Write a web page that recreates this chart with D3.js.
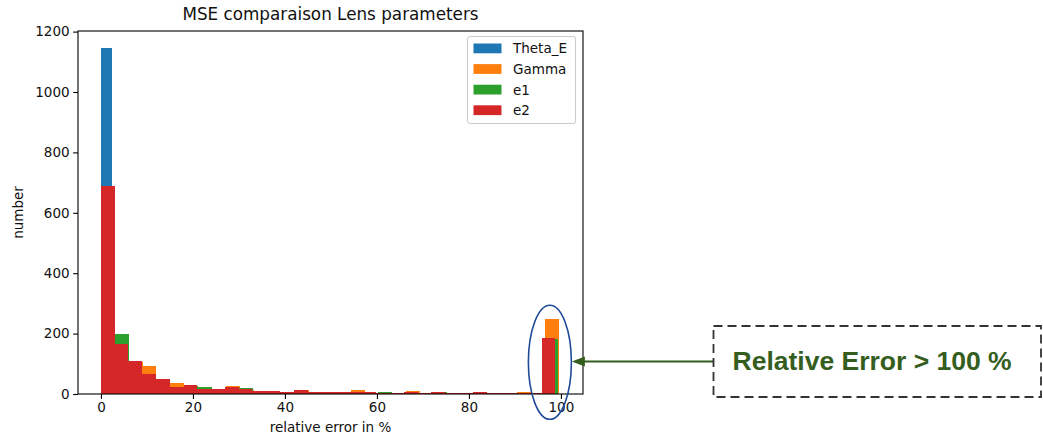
<!DOCTYPE html>
<html>
<head>
<meta charset="utf-8">
<script src="https://cdn.jsdelivr.net/npm/d3@7"></script>
<style>
  html, body { margin: 0; padding: 0; background: #ffffff; }
  svg { display: block; }
</style>
</head>
<body>
<svg id="chart" width="1043" height="436"></svg>
<script>
// Histogram counts per parameter (33 bins each, over each series' own range)
const seriesNames = ["Theta_E", "Gamma", "e1", "e2"];
const seriesColors = ["#1f77b4", "#ff7f0e", "#2ca02c", "#d62728"];

const thetaERange = [0, 77];
const thetaECounts = [1145, 150, 60, 35, 20, 12, 8, 5, 3, 3, 2, 2, 1, 1, 1, 1, 0, 1, 0, 0, 1, 0, 0, 0, 0, 1, 0, 0, 0, 0, 0, 0, 1];

const gammaRange = [0, 99.6];
const gammaCounts = [560, 180, 105, 92, 45, 35, 25, 20, 14, 27, 14, 9, 8, 7, 14, 8, 6, 5, 12, 4, 3, 3, 10, 3, 3, 4, 2, 2, 2, 3, 7, 3, 248];

const e1Range = [0, 99.3];
const e1Counts = [600, 200, 100, 60, 45, 22, 28, 24, 12, 18, 21, 9, 8, 7, 8, 6, 5, 8, 4, 4, 6, 3, 2, 3, 7, 2, 2, 2, 3, 2, 1, 2, 182];

const e2Range = [0, 98.8];
const e2Counts = [690, 165, 108, 66, 50, 24, 30, 16, 15, 22, 15, 10, 9, 8, 12, 8, 7, 6, 5, 8, 4, 3, 5, 3, 5, 4, 2, 8, 2, 2, 3, 2, 187];

const xTicks = [0, 20, 40, 60, 80, 100];
const yTicks = [0, 200, 400, 600, 800, 1000, 1200];

const titleText = "MSE comparaison Lens parameters";
const xLabelText = "relative error in %";
const yLabelText = "number";
const calloutText = "Relative Error > 100 %";

const series = [
  { name: seriesNames[0], color: seriesColors[0], range: thetaERange, counts: thetaECounts },
  { name: seriesNames[1], color: seriesColors[1], range: gammaRange, counts: gammaCounts },
  { name: seriesNames[2], color: seriesColors[2], range: e1Range, counts: e1Counts },
  { name: seriesNames[3], color: seriesColors[3], range: e2Range, counts: e2Counts }
];

const font = "'DejaVu Sans', sans-serif";
const svg = d3.select("#chart");

const plot = { left: 78, right: 583, top: 31, bottom: 394 };

const x = d3.scaleLinear().domain([-4.99, 104.8]).range([plot.left, plot.right]);
const y = d3.scaleLinear().domain([0, 1202]).range([plot.bottom, plot.top]);

// Bars: each series uses equal-width bins over its own range, later series on top
series.forEach(s => {
  const n = s.counts.length;
  const w = (s.range[1] - s.range[0]) / n;
  const bins = s.counts.map((c, i) => ({ x0: s.range[0] + i * w, x1: s.range[0] + (i + 1) * w, c }));
  svg.append("g")
    .selectAll("rect")
    .data(bins)
    .join("rect")
    .attr("x", d => x(d.x0))
    .attr("width", d => x(d.x1) - x(d.x0))
    .attr("y", d => y(d.c))
    .attr("height", d => y(0) - y(d.c))
    .attr("fill", s.color)
    .attr("shape-rendering", "crispEdges");
});

// Axes
const xAxis = d3.axisBottom(x).tickValues(xTicks).tickFormat(d3.format("d"))
  .tickSizeOuter(0).tickSize(4.9).tickPadding(3.5);
const yAxis = d3.axisLeft(y).tickValues(yTicks).tickFormat(d3.format("d"))
  .tickSizeOuter(0).tickSize(4.9).tickPadding(3.5);

const gx = svg.append("g").attr("transform", `translate(0,${plot.bottom})`).call(xAxis);
const gy = svg.append("g").attr("transform", `translate(${plot.left},0)`).call(yAxis);
[gx, gy].forEach(g => {
  g.select(".domain").remove();
  g.selectAll("text").attr("font-family", font).attr("font-size", "13.5px").attr("fill", "#111");
  g.selectAll("line").attr("stroke", "#000").attr("stroke-width", 1.1);
});

// Frame
svg.append("rect")
  .attr("x", plot.left).attr("y", plot.top)
  .attr("width", plot.right - plot.left).attr("height", plot.bottom - plot.top)
  .attr("fill", "none").attr("stroke", "#000").attr("stroke-width", 1.1);

// Title and axis labels
svg.append("text")
  .attr("x", (plot.left + plot.right) / 2).attr("y", 20)
  .attr("text-anchor", "middle").attr("font-family", font).attr("font-size", "16.8px")
  .attr("fill", "#111").text(titleText);

svg.append("text")
  .attr("x", (plot.left + plot.right) / 2).attr("y", 432)
  .attr("text-anchor", "middle").attr("font-family", font).attr("font-size", "13.5px")
  .attr("fill", "#111").text(xLabelText);

svg.append("text")
  .attr("transform", `translate(23,${(plot.top + plot.bottom) / 2}) rotate(-90)`)
  .attr("text-anchor", "middle").attr("font-family", font).attr("font-size", "13.5px")
  .attr("fill", "#111").text(yLabelText);

// Legend
const legend = svg.append("g").attr("transform", "translate(467.5,36.5)");
legend.append("rect")
  .attr("width", 108).attr("height", 87).attr("rx", 2.5)
  .attr("fill", "#fff").attr("fill-opacity", 0.8)
  .attr("stroke", "#cccccc").attr("stroke-width", 1);
series.forEach((s, i) => {
  const row = legend.append("g").attr("transform", `translate(6,${7 + i * 20.6})`);
  row.append("rect").attr("width", 28).attr("height", 9.8).attr("fill", s.color);
  row.append("text")
    .attr("x", 39.5).attr("y", 9.8)
    .attr("font-family", font).attr("font-size", "13.5px").attr("fill", "#111")
    .text(s.name);
});

// Callout on the clipped >100 % bin
const ex = x(97.6), ey = y(105);
svg.append("ellipse")
  .attr("cx", ex).attr("cy", ey).attr("rx", 21.5).attr("ry", 57)
  .attr("fill", "none").attr("stroke", "#1f4a9a").attr("stroke-width", 1.6);

const green = "#355e1e";
const boxLeft = 713.5, boxTop = 326, boxRight = 1041, boxBottom = 397;
const arrowY = (boxTop + boxBottom) / 2;
const tipX = ex + 22;

svg.append("line")
  .attr("x1", boxLeft).attr("y1", arrowY).attr("x2", tipX + 12).attr("y2", arrowY)
  .attr("stroke", green).attr("stroke-width", 2);
svg.append("path")
  .attr("d", `M${tipX},${arrowY} L${tipX + 13},${arrowY - 5} L${tipX + 13},${arrowY + 5} Z`)
  .attr("fill", green);

svg.append("rect")
  .attr("x", boxLeft).attr("y", boxTop)
  .attr("width", boxRight - boxLeft).attr("height", boxBottom - boxTop)
  .attr("fill", "none").attr("stroke", "#333").attr("stroke-width", 1.8)
  .attr("stroke-dasharray", "9,5");

svg.append("text")
  .attr("x", 732.5).attr("y", 370)
  .attr("font-family", "'Liberation Sans', Arial, sans-serif").attr("font-weight", "bold")
  .attr("font-size", "26.5px").attr("fill", green)
  .text(calloutText);
</script>
</body>
</html>
